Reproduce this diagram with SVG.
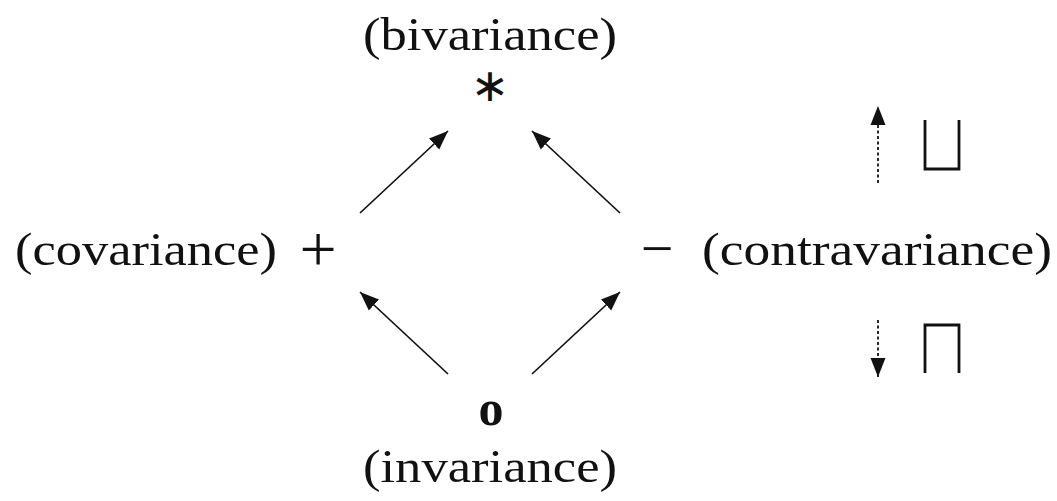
<svg xmlns="http://www.w3.org/2000/svg" width="1057" height="501" viewBox="0 0 1057 501">
<style>
.t{font-family:"Liberation Serif","DejaVu Serif",serif;font-size:46px;fill:#111}
.c{stroke:#111;stroke-width:1.7;fill:none}
.d{stroke:#111;stroke-width:1.8;fill:none;stroke-dasharray:3 2.5}
.s{stroke:#111;stroke-width:2.8;fill:none;stroke-linecap:butt}
</style>
<defs>
<marker id="ah" markerUnits="userSpaceOnUse" markerWidth="21" markerHeight="17" refX="19" refY="8" orient="auto">
<path d="M0,0.5 L19,8 L0,15.5 z" fill="#111"/>
</marker>
</defs>
<rect width="1057" height="501" fill="#fff"/>
<g id="bivariance">
<text class="t" x="363" y="50" textLength="254" lengthAdjust="spacingAndGlyphs">(bivariance)</text>
<text x="490" y="101" text-anchor="middle" style="font-family:'DejaVu Sans',sans-serif;font-size:46px;fill:#111">∗</text>
</g>
<g id="covariance">
<text class="t" x="15" y="265" textLength="262" lengthAdjust="spacingAndGlyphs">(covariance)</text>
<text class="t" x="318" y="271" text-anchor="middle" style="font-size:66px">+</text>
</g>
<g id="contravariance">
<text class="t" x="657" y="268" text-anchor="middle" style="font-size:58px">−</text>
<text class="t" x="702" y="265" textLength="350" lengthAdjust="spacingAndGlyphs">(contravariance)</text>
</g>
<g id="invariance">
<text x="491" y="425" text-anchor="middle" style="font-family:'Liberation Serif',serif;font-weight:bold;font-size:50px;fill:#111">o</text>
<text class="t" x="363" y="482" textLength="254" lengthAdjust="spacingAndGlyphs">(invariance)</text>
</g>
<g id="legend">
<path class="s" d="M925,120 V169 H959 V120"/>
<path class="s" d="M925,373 V325 H959 V373"/>
</g>
<g id="connectors">
<line class="c" x1="360" y1="213" x2="448" y2="131" marker-end="url(#ah)"/>
<line class="c" x1="620" y1="213" x2="532" y2="131" marker-end="url(#ah)"/>
<line class="c" x1="448" y1="374" x2="360" y2="292" marker-end="url(#ah)"/>
<line class="c" x1="532" y1="374" x2="620" y2="292" marker-end="url(#ah)"/>
<line class="d" x1="878" y1="183" x2="878" y2="106" marker-end="url(#ah)"/>
<line class="d" x1="878" y1="320" x2="878" y2="377" marker-end="url(#ah)"/>
</g>
</svg>
